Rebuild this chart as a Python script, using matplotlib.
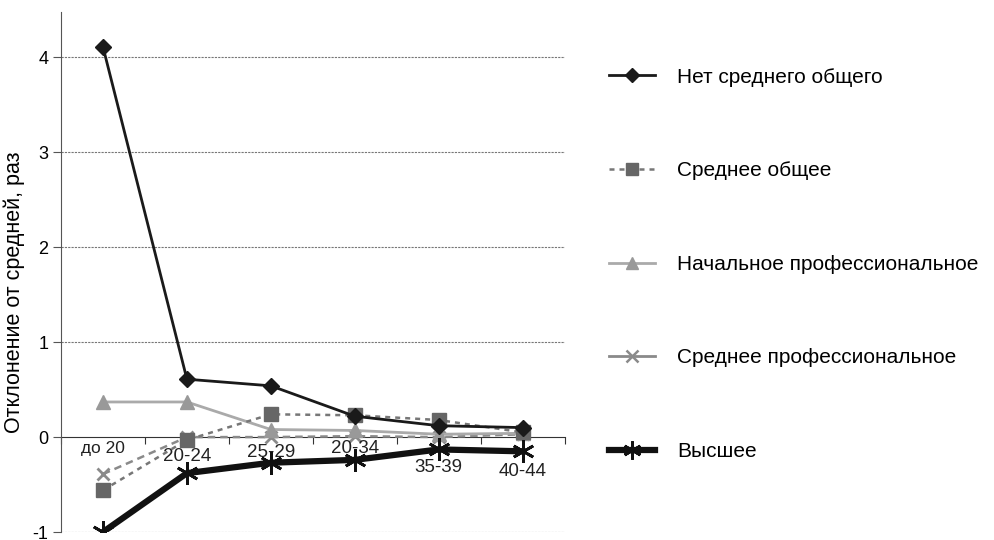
import matplotlib
matplotlib.use('Agg')
import matplotlib.pyplot as plt
from matplotlib.lines import Line2D

plt.rcParams['font.family'] = ['Liberation Sans', 'DejaVu Sans']

categories = ['до 20', '20-24', '25-29', '20-34', '35-39', '40-44']
no_secondary = [4.11, 0.61, 0.54, 0.22, 0.12, 0.10]
secondary_general = [-0.56, -0.03, 0.24, 0.23, 0.18, 0.05]
primary_vocational = [0.37, 0.37, 0.08, 0.07, 0.03, 0.04]
secondary_vocational = [-0.39, 0.00, 0.00, 0.01, 0.00, 0.03]
higher = [-1.00, -0.38, -0.27, -0.24, -0.13, -0.15]
series_names = ['Нет среднего общего', 'Среднее общее', 'Начальное профессиональное',
                'Среднее профессиональное', 'Высшее']

# vertical offsets (points) of category labels, as placed in the original
label_offsets = [-8, -14, -11, -8, -22, -25]

fig = plt.figure(figsize=(9.94, 5.4), dpi=100)
ax = fig.add_axes([0.0614, 0.0148, 0.5066, 0.9632])

x = list(range(len(categories)))

ax.plot(x, secondary_vocational, color='#8a8a8a', linestyle=(0, (3, 2)), linewidth=1.8,
        marker='x', markersize=9, markeredgewidth=2, markeredgecolor='#8a8a8a', zorder=3)
ax.plot(x, primary_vocational, color='#aaaaaa', linewidth=2, marker='^', markersize=10,
        markerfacecolor='#999999', markeredgecolor='#999999', zorder=3)
ax.plot(x, secondary_general, color='#777777', linestyle=(0, (2, 2)), linewidth=1.8,
        marker='s', markersize=10, markerfacecolor='#666666', markeredgecolor='#666666', zorder=4)
ax.plot(x, no_secondary, color='#1a1a1a', linewidth=2, marker='D', markersize=8,
        markerfacecolor='#1a1a1a', zorder=5)
ax.plot(x, higher, color='#111111', linewidth=4.5, marker=(6, 2, 0), markersize=16,
        markeredgewidth=2, markeredgecolor='#111111', zorder=6)

ax.set_xlim(-0.5, 5.5)
ax.set_ylim(-1, 4.48)
ax.set_yticks([-1, 0, 1, 2, 3, 4])
ax.set_yticklabels(['-1', '0', '1', '2', '3', '4'], fontsize=13)
for v in [-1, 1, 2, 3, 4]:
    ax.axhline(v, color='#777777', linestyle=(0, (2, 1)), linewidth=0.8, zorder=1)

ax.spines['top'].set_visible(False)
ax.spines['right'].set_visible(False)
ax.spines['bottom'].set_position(('data', 0))
ax.spines['bottom'].set_color('#333333')
ax.spines['left'].set_color('#555555')
ax.spines['bottom'].set_zorder(2)
ax.set_xticks([i - 0.5 for i in range(len(categories) + 1)])
ax.set_xticklabels([])
ax.tick_params(axis='x', length=5, color='#333333')
ax.tick_params(axis='y', length=6, color='#555555', pad=3)

for i, (lab, off) in enumerate(zip(categories, label_offsets)):
    ax.annotate(lab, (i, 0), xytext=(0, off), textcoords='offset points',
                ha='center', va='center', fontsize=13.5 if i else 12.5, color='#222222')

ax.set_ylabel('Отклонение от средней, раз', fontsize=15.5)
ax.yaxis.set_label_coords(-0.071, 0.46)

handles = [
    Line2D([], [], color='#1a1a1a', linewidth=2, marker='D', markersize=7),
    Line2D([], [], color='#777777', linestyle=(0, (2, 2)), linewidth=1.8, marker='s',
           markersize=9, markerfacecolor='#666666', markeredgecolor='#666666'),
    Line2D([], [], color='#aaaaaa', linewidth=2, marker='^', markersize=9,
           markerfacecolor='#999999', markeredgecolor='#999999'),
    Line2D([], [], color='#8a8a8a', linewidth=2, marker='x', markersize=8, markeredgewidth=1.8),
    Line2D([], [], color='#111111', linewidth=4.5, marker=(6, 2, 0), markersize=13,
           markeredgewidth=2),
]
fig.legend(handles, series_names, loc='upper left', bbox_to_anchor=(0.604, 0.890),
           frameon=False, fontsize=15, handlelength=2.2, handletextpad=1.1,
           labelspacing=3.58, borderaxespad=0)

fig.savefig('out.png', dpi=100)
